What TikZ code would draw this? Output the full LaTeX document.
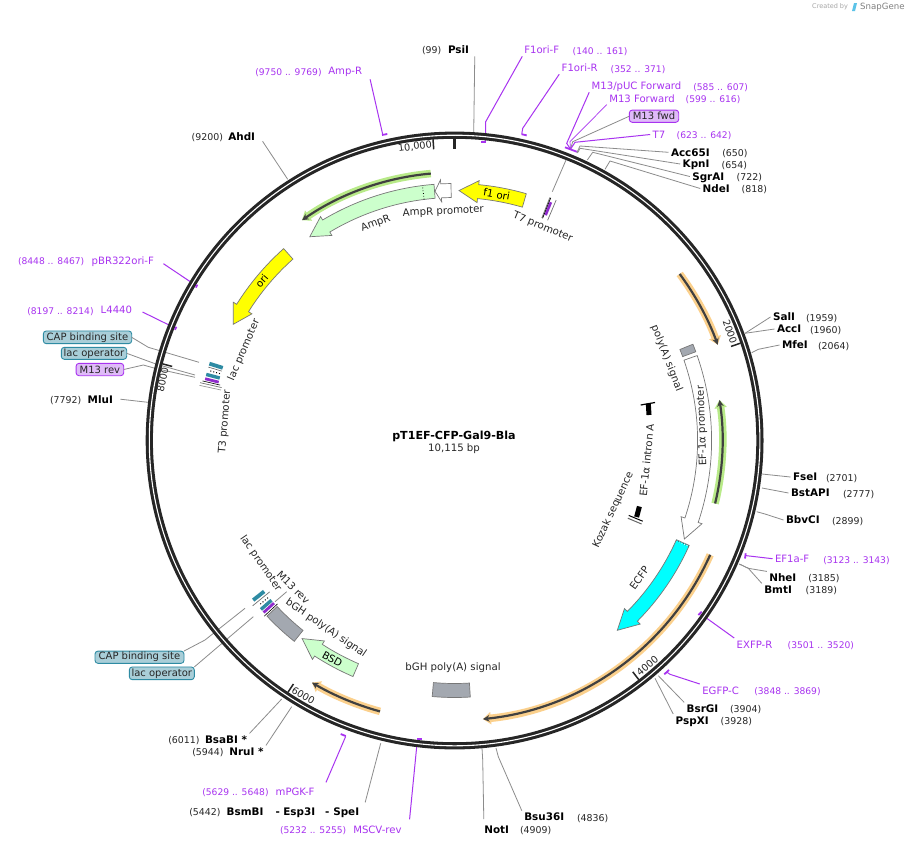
\documentclass[tikz,border=0pt]{standalone}
\usepackage{fontspec}
\setmainfont{DejaVu Sans}
\usetikzlibrary{arrows.meta,calc}
\definecolor{pur}{HTML}{A833F0}
\definecolor{ringc}{HTML}{262626}
\definecolor{glowO}{HTML}{FBD08C}
\definecolor{glowG}{HTML}{B8EA88}
\definecolor{trk}{HTML}{404040}
\definecolor{lgreen}{HTML}{CCFFCC}
\definecolor{graybox}{HTML}{A3A8B0}
\definecolor{tealb}{HTML}{2E8BA3}
\definecolor{boxteal}{HTML}{A9CED8}
\definecolor{boxpur}{HTML}{DFBBF8}
\definecolor{featl}{HTML}{777777}
\definecolor{pureyellow}{HTML}{FFFF00}
\definecolor{purecyan}{HTML}{00FFFF}
\definecolor{logoblue}{HTML}{5CC3E8}
\newcommand\pp[2]{({454.6+(#2)*cos((#1)-90)},{440.5+(#2)*sin((#1)-90)})}
\tikzset{
  lbl/.style={inner sep=0pt,outer sep=2.5pt,text height=7.6pt,text depth=0pt,anchor=west},
  primer/.style={lbl,text=pur,font=\fontsize{10.1}{12}\selectfont},
  prange/.style={lbl,text=pur,font=\fontsize{9.15}{12}\selectfont},
  site/.style={lbl,text=black,font=\fontsize{10.4}{12}\selectfont\bfseries},
  srange/.style={lbl,text=black!85,font=\fontsize{9.4}{12}\selectfont},
  rot/.style={inner sep=0pt,outer sep=0pt,text=black!85,font=\fontsize{10.2}{12}\selectfont},
  ticklab/.style={inner sep=0pt,text=black!85,font=\fontsize{9.7}{12}\selectfont},
  tagbox/.style={rounded corners=3pt,line width=0.9pt,inner sep=0pt,outer sep=0pt,text=black!85,font=\fontsize{10}{12}\selectfont,anchor=center},
  tagteal/.style={tagbox,draw=tealb,fill=boxteal},
  tagpur/.style={tagbox,draw=pur,fill=boxpur},
  gline/.style={draw=black!45,line width=0.8pt},
  pline/.style={draw=pur,line width=1pt},
  pmark/.style={draw=pur,line width=1.8pt},
  feat/.style={draw=featl,line width=0.7pt,line join=miter},
  tickm/.style={draw=ringc,line width=1.5pt},
}
% arrow feature: tail angle, head-back angle, tip angle, fill
\newcommand\featarrow[4]{%
  \path[feat,fill=#4] \pp{#1}{257} arc[start angle={#1-90},end angle={#2-90},radius=257]
    -- \pp{#2}{261} -- \pp{#3}{250} -- \pp{#2}{239} -- \pp{#2}{243}
    arc[start angle={#2-90},end angle={#1-90},radius=243] -- cycle;}
% plain arc box
\newcommand\featbox[3]{%
  \path[feat,fill=#3] \pp{#1}{257} arc[start angle={#1-90},end angle={#2-90},radius=257]
    -- \pp{#2}{243} arc[start angle={#2-90},end angle={#1-90},radius=243] -- cycle;}
% translated track: start, end, radius, glow colour
\newcommand\track[4]{%
  \draw[#4,line width=7.5pt,-{Triangle[length=8pt,width=12pt]}] \pp{#1}{#3} arc[start angle={#1-90},end angle={#2-90},radius=#3];
  \draw[trk,line width=2.2pt,-{Stealth[length=6.5pt,width=6.5pt]}] \pp{#1}{#3} arc[start angle={#1-90},end angle={#2-90},radius=#3];}
\newcommand\radbar[3]{\draw[#3,line width=#2] \pp{#1}{243} -- \pp{#1}{257};}
\newcommand\radline[2]{\draw[#2,line width=0.7pt] \pp{#1}{239} -- \pp{#1}{261};}
\begin{document}
\begin{tikzpicture}[x=1pt,y=-1pt]
\useasboundingbox (0,0) rectangle (909,846);
\fill[white] (0,0) rectangle (909,846);

% ---------- labels: primers
\node[primer] (F1oriF) at (521.8,50) {F1ori-F};
\node[prange] (rF1oriF) at (570.2,51) {(140 .. 161)};
\node[primer] (F1oriR) at (559.2,68) {F1ori-R};
\node[prange] (rF1oriR) at (608.2,69) {(352 .. 371)};
\node[primer] (M13pUC) at (589.2,86) {M13/pUC Forward};
\node[prange] (rM13pUC) at (690.8,87) {(585 .. 607)};
\node[primer] (M13For) at (606.8,98.3) {M13 Forward};
\node[prange] (rM13For) at (683.2,99) {(599 .. 616)};
\node[primer] (T7) at (650.2,134.5) {T7};
\node[prange] (rT7) at (674.2,135) {(623 .. 642)};
\node[primer] (EF1aF) at (772.5,558.7) {EF1a-F};
\node[prange] (rEF1aF) at (820.8,560) {(3123 .. 3143)};
\node[primer] (EXFPR) at (734.2,644.3) {EXFP-R};
\node[prange] (rEXFPR) at (785.2,644.8) {(3501 .. 3520)};
\node[primer] (EGFPC) at (699.8,690.3) {EGFP-C};
\node[prange] (rEGFPC) at (751.8,690.8) {(3848 .. 3869)};
\node[primer] (mPGKF) at (273.2,791.7) {mPGK-F};
\node[prange] (rmPGKF) at (199.8,792) {(5629 .. 5648)};
\node[primer] (MSCVrev) at (350.8,829.7) {MSCV-rev};
\node[prange] (rMSCVrev) at (277.5,830) {(5232 .. 5255)};
\node[primer] (AmpRp) at (325.8,71) {Amp-R};
\node[prange] (rAmpRp) at (252.8,71.7) {(9750 .. 9769)};
\node[primer] (pBRori) at (89.2,260.7) {pBR322ori-F};
\node[prange] (rpBRori) at (15.5,261) {(8448 .. 8467)};
\node[primer] (L4440) at (98.2,310) {L4440};
\node[prange] (rL4440) at (24.8,311) {(8197 .. 8214)};

% ---------- labels: sites
\node[srange] (rPsiI) at (419.5,50) {(99)};
\node[site] (PsiI) at (445.5,50) {PsiI};
\node[site] (Acc65I) at (668.5,152.3) {Acc65I};
\node[srange] (rAcc65I) at (719.8,152.8) {(650)};
\node[site] (KpnI) at (680.2,164) {KpnI};
\node[srange] (rKpnI) at (719.2,164.5) {(654)};
\node[site] (SgrAI) at (689.8,176.5) {SgrAI};
\node[srange] (rSgrAI) at (734.2,177) {(722)};
\node[site] (NdeI) at (700.2,188.5) {NdeI};
\node[srange] (rNdeI) at (739.2,189) {(818)};
\node[site] (SalI) at (770.5,317) {SalI};
\node[srange] (rSalI) at (803.5,317.5) {(1959)};
\node[site] (AccI) at (774.5,329) {AccI};
\node[srange] (rAccI) at (807.5,329.5) {(1960)};
\node[site] (MfeI) at (779.5,345) {MfeI};
\node[srange] (rMfeI) at (815.5,345.5) {(2064)};
\node[site] (FseI) at (790.5,477) {FseI};
\node[srange] (rFseI) at (823.5,477.5) {(2701)};
\node[site] (BstAPI) at (788.5,493) {BstAPI};
\node[srange] (rBstAPI) at (840.5,493.5) {(2777)};
\node[site] (BbvCI) at (783.5,520) {BbvCI};
\node[srange] (rBbvCI) at (829.5,520.5) {(2899)};
\node[site] (NheI) at (766.8,577.7) {NheI};
\node[srange] (rNheI) at (805.8,578) {(3185)};
\node[site] (BmtI) at (761.8,589.7) {BmtI};
\node[srange] (rBmtI) at (803.2,590) {(3189)};
\node[site] (BsrGI) at (684.2,708.7) {BsrGI};
\node[srange] (rBsrGI) at (727.5,709) {(3904)};
\node[site] (PspXI) at (673.2,720.3) {PspXI};
\node[srange] (rPspXI) at (718.2,720.8) {(3928)};
\node[srange] (rBsaBI) at (165.8,739.7) {(6011)};
\node[site] (BsaBI) at (202.5,739.7) {BsaBI *};
\node[srange] (rNruI) at (189.8,752) {(5944)};
\node[site] (NruI) at (226.8,751.7) {NruI *};
\node[srange] (rBsmBI) at (186.8,812) {(5442)};
\node[site] (BsmBI) at (224.2,811.7) {BsmBI};
\node[site] (dashA) at (273.2,811.7) {-};
\node[site] (Esp3I) at (280.8,811.7) {Esp3I};
\node[site] (dashB) at (322.5,811.7) {-};
\node[site] (SpeI) at (330.8,811.7) {SpeI};
\node[site] (NotI) at (481.8,829.3) {NotI};
\node[srange] (rNotI) at (517.5,829.8) {(4909)};
\node[site] (Bsu36I) at (521.8,817) {Bsu36I};
\node[srange] (rBsu36I) at (574.5,817.5) {(4836)};
\node[srange] (rAhdI) at (189.2,137) {(9200)};
\node[site] (AhdI) at (225.8,137) {AhdI};
\node[srange] (rMluI) at (47.5,399.7) {(7792)};
\node[site] (MluI) at (85.2,399.2) {MluI};

% ---------- tag boxes
\node[tagpur,minimum width=49.4pt,minimum height=12.3pt] (M13fwd) at (654,116.2) {M13 fwd};
\node[tagteal,minimum width=88.4pt,minimum height=12.7pt] (CAPa) at (87.5,337.3) {CAP binding site};
\node[tagteal,minimum width=65.4pt,minimum height=12pt] (lacOpa) at (94,353.3) {lac operator};
\node[tagpur,minimum width=47.7pt,minimum height=12.4pt] (M13reva) at (99.9,369.5) {M13 rev};
\node[tagteal,minimum width=89pt,minimum height=12.3pt] (CAPb) at (139.5,657.2) {CAP binding site};
\node[tagteal,minimum width=65pt,minimum height=12.7pt] (lacOpb) at (161.8,673.3) {lac operator};

% ---------- connectors (behind the ring)
\coordinate (mFF) at (485.4,141.7);
\coordinate (mFR) at (521.7,134.4);
\coordinate (mCl) at (570.5,149.2);
\coordinate (mAR) at (382.7,134.4);
\coordinate (mPB) at (196.7,286);
\coordinate (mL4) at (175.7,328.3);
\coordinate (mEF) at (745.8,555.5);
\coordinate (mEX) at (700,613.4);
\coordinate (mEG) at (666.7,672);
\coordinate (mPG) at (345.7,736.4);
\coordinate (mMS) at (419,739);
\draw[pline] ($(F1oriF.south west)+(0.5,0)$) -- (485.7,121.7) -- (mFF);
\draw[pline] (F1oriR.south west) -- (522.7,128.3) -- (mFR);
\draw[pline] (M13pUC.south west) -- (566.7,143.3) -- (mCl);
\draw[pur,line width=0.7pt] (M13For.south west) -- (570,141.7) -- (mCl);
\draw[gline] (M13fwd.west) -- (572.7,141.7) -- (mCl);
\draw[pline] (T7.west) -- (575,142.3) -- (mCl);
\draw[pline] ($(AmpRp.south east)+(5.5,2)$) -- (mAR);
\draw[pline] ($(pBRori.east)+(7,3)$) -- (mPB);
\draw[pline] ($(L4440.east)+(8,2)$) -- (mL4);
\draw[pline] (EF1aF.west) -- (746.7,555.7) -- (mEF);
\draw[pline] (EXFPR.north west) -- (mEX);
\draw[pline] (EGFPC.north west) -- (670,674.3) -- (mEG);
\draw[pline] ($(mPGKF.north east)+(9,-3)$) -- (mPG);
\draw[pline] ($(MSCVrev.north east)+(5.5,-4)$) -- (416.7,746.7) -- (mMS);

\coordinate (fPsi) at (473.7,133);
\coordinate (fAcc) at (576.7,153);
\coordinate (fKpn) at (577.5,153);
\coordinate (fSgr) at (587.3,160);
\coordinate (fNde) at (605,169.3);
\coordinate (fSal) at (745,333.3);
\coordinate (fMfe) at (751.7,352.7);
\coordinate (fFse) at (762,474);
\coordinate (fBst) at (762,488);
\coordinate (fBbv) at (756.7,511.7);
\coordinate (fNhe) at (739.3,564);
\coordinate (fBsr) at (658.3,675.7);
\coordinate (fPsp) at (655,678.3);
\coordinate (fBsa) at (281.7,699);
\coordinate (fNru) at (291.7,706.7);
\coordinate (fBsm) at (380.7,743.3);
\coordinate (fNot) at (482,748);
\coordinate (fBsu) at (496,748);
\coordinate (fAhd) at (287.7,179.3);
\coordinate (fMlu) at (148,402.3);
\coordinate (fT7p) at (552.3,191.7);
\coordinate (fCa) at (199,362.3);
\coordinate (fLa) at (195,375);
\coordinate (fMa) at (195,377.3);
\coordinate (fCb) at (245,608.3);
\coordinate (fLb) at (253.3,616.7);
\draw[gline] ($(PsiI.south east)+(3.2,0)$) -- (fPsi);
\draw[gline] (Acc65I.west) -- (580,146) -- (fAcc);
\draw[gline] (KpnI.west) -- (580,148.3) -- (fKpn);
\draw[gline] (SgrAI.west) -- (592.7,152.3) -- (fSgr);
\draw[gline] (NdeI.west) -- (610,161) -- (fNde);
\draw[gline] (SalI.west) -- (fSal);
\draw[gline] (AccI.west) -- (fSal);
\draw[gline] (MfeI.west) -- (758.3,349.3) -- (fMfe);
\draw[gline] (FseI.west) -- (fFse);
\draw[gline] (BstAPI.west) -- (fBst);
\draw[gline] (BbvCI.west) -- (765,514) -- (fBbv);
\draw[gline] (NheI.north west) -- (748.3,568.3) -- (fNhe);
\draw[gline] (BmtI.north west) -- (748.3,568.3) -- (fNhe);
\draw[gline] (BsrGI.north west) -- (fBsr);
\draw[gline] (PspXI.north west) -- (fPsp);
\draw[gline] (BsaBI.north east) -- (fBsa);
\draw[gline] (NruI.north east) -- (fNru);
\draw[gline] ($(SpeI.north east)+(3.5,-3)$) -- (fBsm);
\draw[gline] ($(NotI.north west)+(2,-4)$) -- (482.7,760) -- (fNot);
\draw[gline] (Bsu36I.north west) -- (498.3,756.7) -- (fBsu);
\draw[gline] ($(AhdI.south east)+(5,-2)$) -- (fAhd);
\draw[gline] ($(MluI.east)+(5,0)$) -- (fMlu);
\draw[gline] (566,160) -- (fT7p);
\draw[gline] (CAPa.east) -- (148.3,347.3) -- (fCa);
\draw[gline] (lacOpa.east) -- (156.7,364.3) -- (fLa);
\draw[gline] (M13reva.east) -- (143.3,365) -- (155,368.3) -- (fMa);
\draw[gline] (CAPb.north east) -- (205,640) -- (fCb);
\draw[gline] (lacOpb.north east) -- (fLb);
\draw[gline] (275,601.7) -- (286.7,591.7);

% ---------- ring
\draw[ringc,line width=7.2pt] (454.6,440.5) circle[radius=305.3];
\draw[white,line width=1.1pt] (454.6,440.5) circle[radius=305.3];

% primer marks
\draw[pmark] (481,141.7) -- (485.7,141.7);
\draw[pmark] (521.7,134.2) -- (526.7,135.4);
\draw[pmark] (565,147.3) -- (576.7,151.7);
\draw[pmark] (382,135) -- (387.3,134);
\draw[pmark] (195.8,287.6) -- (197.4,284.6);
\draw[pmark] (174.9,329.8) -- (176.4,326.8);
\draw[pmark] (745.7,553.3) -- (745,558.5);
\draw[pmark] (698.3,615) -- (701.7,611.7);
\draw[pmark] (664.3,674.3) -- (669,670);
\draw[pmark] (340.7,734) -- (345.7,736);
\draw[pmark] (417.2,739) -- (421.7,739);

% ---------- ticks
\draw[ringc,line width=3pt] \pp{0}{305} -- \pp{0}{292};
\draw[tickm] \pp{71.2}{302} -- \pp{71.2}{292};
\draw[tickm] \pp{142.4}{302} -- \pp{142.4}{292};
\draw[tickm] \pp{213.5}{302} -- \pp{213.5}{292};
\draw[tickm] \pp{284.7}{302} -- \pp{284.7}{292};
\draw[tickm] \pp{355.9}{302} -- \pp{355.9}{292};
\node[ticklab,rotate=7.6] (t10k) at (415,146.7) {10,000};
\node[ticklab,rotate=-71] (t2k) at (730,331.7) {2000};
\node[ticklab,rotate=40] (t4k) at (647.3,666) {4000};
\node[ticklab,rotate=-31] (t6k) at (303.3,695.7) {6000};
\node[ticklab,rotate=78] (t8k) at (162.7,380) {8000};

% ---------- translated tracks
\track{-5.1}{-34.7}{268}{glowG}
\track{53.5}{70}{280}{glowO}
\track{103.6}{81.3}{268}{glowG}
\track{114.1}{174.2}{280}{glowO}
\track{195.4}{210.5}{281}{glowO}

% ---------- features
\featarrow{16.2}{5.4}{1}{pureyellow}
\featarrow{-41.7}{-58}{-62.3}{pureyellow}
\featarrow{-4.6}{-30.9}{-35.4}{lgreen}
\featarrow{-0.8}{-3.1}{-4.5}{white}
\featarrow{70.7}{108.6}{113.2}{white}
\featbox{68}{69.8}{graybox}
\featarrow{114.1}{134.7}{139.4}{purecyan}
\featbox{176.5}{185}{graybox}
\featarrow{203.3}{213}{217.6}{lgreen}
\featbox{218.6}{226.9}{graybox}
\draw[black,dotted,line width=0.8pt] \pp{-7.2}{243} -- \pp{-7.2}{257};
\draw[white,dotted,line width=0.9pt] \pp{114.3}{243} -- \pp{114.3}{257};
\draw[black,dotted,line width=0.6pt] \pp{114.3}{243} -- \pp{114.3}{257};

% T7 promoter cluster
\radline{21.4}{black!55}
\radline{22.9}{black!55}
\radline{21.6}{black}
\radbar{22}{2.6pt}{pur!85!black}

% upper-left lac cluster
\radbar{287.4}{3.8pt}{tealb}
\draw[black!60,line width=0.6pt] \pp{286.6}{243} -- \pp{286.6}{257};
\draw[black,dotted,line width=1pt] \pp{285.9}{244} -- \pp{285.9}{256};
\radbar{284.9}{3.4pt}{tealb}
\radbar{283.9}{2.8pt}{pur!85!black}
\draw[black,line width=0.6pt] \pp{283.3}{241} -- \pp{283.3}{259};
\radline{282.8}{black!55}
\radline{282.2}{black!40}

% lower-left lac cluster
\radbar{231.6}{3.8pt}{tealb}
\radline{230.7}{black!55}
\draw[black,dotted,line width=1pt] \pp{229.9}{244} -- \pp{229.9}{256};
\radbar{228.9}{3.4pt}{tealb}
\radbar{228}{2.8pt}{pur!85!black}
\draw[black,line width=0.6pt] \pp{227.3}{241} -- \pp{227.3}{259};

% EF-1a intron A and Kozak
\draw[black,line width=1.2pt] (640.7,405) -- (655,402.5);
\draw[black,line width=5pt] (648.3,403.5) -- (649,415);
\draw[black,line width=5pt] (639.4,506.5) -- (636.6,517);
\draw[black,line width=1pt] (628.7,515.4) -- (642.7,521.2);
\draw[black!60,line width=1pt] (627.8,518.2) -- (641.6,524);

% ---------- rotated labels
\node[rot,text=black,rotate=-10] (Lf1) at (496.7,194.3) {f1 ori};
\node[rot,rotate=2.8] (LAmpP) at (443.3,211.7) {AmpR promoter};
\node[rot,rotate=20] (LAmp) at (375.7,223.3) {AmpR};
\node[rot,rotate=-22] (LT7) at (542.7,227.3) {T7 promoter};
\node[rot,text=black,rotate=50] (Lori) at (261.7,281) {ori};
\node[rot,rotate=66.8] (Llaca) at (244,350) {lac promoter};
\node[rot,rotate=85.3] (LT3) at (225,421.7) {T3 promoter};
\node[rot,rotate=-68.8] (Lpoly) at (666.7,358.3) {poly(A) signal};
\node[rot,rotate=92] (LEFp) at (702.3,425.7) {EF-1α promoter};
\node[rot,rotate=84.2] (LEFi) at (646.7,460) {EF-1α intron A};
\node[rot,rotate=65] (LKoz) at (613.3,510) {Kozak sequence};
\node[rot,rotate=54] (LECFP) at (639.3,577.7) {ECFP};
\node[rot] (LbGHa) at (453,668) {bGH poly(A) signal};
\node[rot,text=black,rotate=-29] (LBSD) at (332.3,659.3) {BSD};
\node[rot,rotate=-34.4] (LbGHb) at (326,628.3) {bGH poly(A) signal};
\node[rot,rotate=-45] (LM13) at (293.3,587.3) {M13 rev};
\node[rot,rotate=-55.5] (Llacb) at (260.7,563.3) {lac promoter};

% ---------- centre
\node[inner sep=0pt,font=\fontsize{11.1}{13}\selectfont\bfseries] (title) at (454,436) {pT1EF-CFP-Gal9-Bla};
\node[inner sep=0pt,font=\fontsize{10.2}{12}\selectfont,text=black!85] (size) at (454,449) {10,115 bp};

% ---------- credit
\node[anchor=west,inner sep=0pt,text=black!35,font=\fontsize{6.5}{8}\selectfont] (credit) at (812,7) {Created by};
\node[anchor=west,inner sep=0pt,text=black!50,font=\fontsize{8.6}{10}\selectfont] (snap) at (860,7) {SnapGene};
\fill[logoblue] (852,11) -- (854,3) -- (857,3) -- (855,11) -- cycle;
\end{tikzpicture}
\end{document}
